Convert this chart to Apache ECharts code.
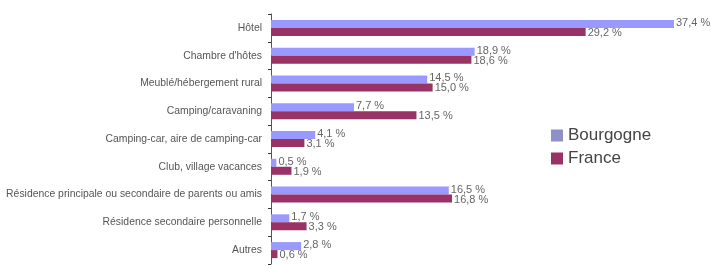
<!DOCTYPE html>
<html>
<head>
<meta charset="utf-8">
<script src="https://cdn.jsdelivr.net/npm/echarts@6/dist/echarts.min.js"></script>
<style>
html, body { margin: 0; padding: 0; background: #fff; }
#chart { width: 711px; height: 266px; }
</style>
</head>
<body>
<div id="chart"></div>
<script>
// catégories d'hébergement
var categories = ['Hôtel', "Chambre d'hôtes", 'Meublé/hébergement rural', 'Camping/caravaning',
	'Camping-car, aire de camping-car', 'Club, village vacances',
	'Résidence principale ou secondaire de parents ou amis', 'Résidence secondaire personnelle', 'Autres'];
var bourgogne = [37.4, 18.9, 14.5, 7.7, 4.1, 0.5, 16.5, 1.7, 2.8];
var france = [29.2, 18.6, 15.0, 13.5, 3.1, 1.9, 16.8, 3.3, 0.6];
var seriesNames = ['Bourgogne', 'France'];

var chart = echarts.init(document.getElementById('chart'));

function fmtPct(p) {
	return p.value.toFixed(1).replace('.', ',') + ' %';
}

function makeLabel(dy) {
	return {
		show: true,
		position: 'right',
		distance: 2,
		offset: [0, dy],
		fontFamily: 'Liberation Sans, Arial, sans-serif',
		fontSize: 11,
		color: '#666',
		formatter: fmtPct
	};
}

var option = {
	animation: false,
	grid: { left: 271, top: 14, width: 431, height: 250, outerBoundsMode: 'none' },
	legend: {
		orient: 'vertical',
		left: 551,
		top: 127,
		padding: 0,
		icon: 'rect',
		itemWidth: 12,
		itemHeight: 12,
		itemGap: 6,
		textStyle: { fontFamily: 'Liberation Sans, Arial, sans-serif', fontSize: 17, color: '#444' },
		data: [
			{ name: seriesNames[0], itemStyle: { color: '#8f8fc9' } },
			{ name: seriesNames[1], itemStyle: { color: '#993366' } }
		]
	},
	xAxis: {
		type: 'value',
		min: 0,
		max: 40,
		show: false
	},
	yAxis: {
		type: 'category',
		inverse: true,
		data: categories,
		axisLine: { show: true, lineStyle: { color: '#555', width: 1 } },
		axisTick: { show: true, length: 3, lineStyle: { color: '#333' } },
		axisLabel: { fontFamily: 'Liberation Sans, Arial, sans-serif', fontSize: 10.4, color: '#555', margin: 9 }
	},
	series: [
		{
			name: seriesNames[0],
			type: 'bar',
			barWidth: 8,
			barGap: '0%',
			itemStyle: { color: '#9999ff' },
			label: makeLabel(-1),
			data: bourgogne
		},
		{
			name: seriesNames[1],
			type: 'bar',
			barWidth: 8,
			itemStyle: { color: '#993366' },
			label: makeLabel(1),
			data: france
		}
	]
};
chart.setOption(option);
</script>
</body>
</html>
